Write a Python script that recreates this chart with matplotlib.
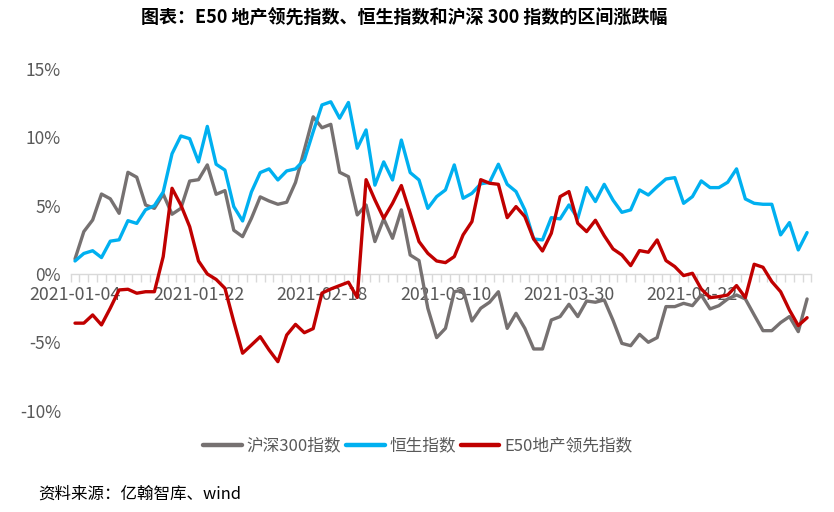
import matplotlib
matplotlib.use("Agg")
import matplotlib.pyplot as plt
from matplotlib.lines import Line2D
from matplotlib.ticker import FixedLocator, FuncFormatter

plt.rcParams['font.family'] = ['Noto Sans CJK SC', 'DejaVu Sans']
plt.rcParams['axes.unicode_minus'] = False

# ---- data (percent change, trading days from 2021-01-04) ----
tick_labels = ["2021-01-04", "2021-01-22", "2021-02-18", "2021-03-10", "2021-03-30", "2021-04-22"]
tick_index = [0, 14, 28, 42, 56, 70]

hs300 = [1.1, 3.1, 3.95, 5.85, 5.5, 4.44, 7.44, 7.08, 5.05, 4.8,
         5.85, 4.37, 4.8, 6.8, 6.9, 7.98, 5.83, 6.1, 3.2, 2.73,
         4.07, 5.64, 5.34, 5.1, 5.25, 6.7, 9.08, 11.5, 10.7, 10.95,
         7.44, 7.12, 4.32, 5.05, 2.37, 4.03, 2.61, 4.69, 1.39, 0.98,
         -2.51, -4.66, -3.98, -1.3, -1.17, -3.44, -2.51, -2.07, -1.3, -3.98,
         -2.88, -3.98, -5.49, -5.49, -3.37, -3.12, -2.22, -3.12, -1.98, -2.07,
         -1.9, -3.4, -5.08, -5.25, -4.42, -5.0, -4.66, -2.39, -2.39, -2.15,
         -2.32, -1.54, -2.56, -2.32, -1.83, -1.54, -1.83, -3.0, -4.15, -4.15,
         -3.56, -3.12, -4.22, -1.83]

hsi = [0.95, 1.5, 1.7, 1.2, 2.4, 2.5, 3.9, 3.7, 4.7, 5.0,
       6.0, 8.8, 10.1, 9.9, 8.2, 10.8, 8.03, 7.6, 4.93, 3.88,
       6.0, 7.42, 7.69, 6.88, 7.54, 7.69, 8.35, 10.4, 12.37, 12.6,
       11.4, 12.55, 9.2, 10.54, 6.5, 8.2, 6.88, 9.8, 7.42, 6.88,
       4.8, 5.66, 6.15, 7.98, 5.54, 5.9, 6.6, 6.7, 8.03, 6.56,
       6.03, 4.69, 2.56, 2.49, 4.12, 4.03, 5.05, 4.07, 6.32, 5.3,
       6.56, 5.4, 4.51, 4.69, 6.15, 5.78, 6.39, 6.95, 7.05, 5.17,
       5.66, 6.81, 6.32, 6.32, 6.71, 7.69, 5.49, 5.17, 5.1, 5.1,
       2.86, 3.76, 1.76, 3.03]

e50 = [-3.6, -3.6, -3.0, -3.73, -2.5, -1.17, -1.12, -1.41, -1.3, -1.3,
       1.27, 6.27, 5.05, 3.46, 0.95, 0.0, -0.4, -1.05, -3.49, -5.8,
       -5.2, -4.59, -5.56, -6.42, -4.47, -3.69, -4.3, -4.0, -1.4, -1.1,
       -0.85, -0.6, -1.72, 6.9, 5.42, 4.07, 5.17, 6.47, 4.44, 2.37,
       1.51, 0.95, 0.83, 1.27, 2.86, 3.83, 6.9, 6.64, 6.56, 4.12,
       4.93, 4.2, 2.56, 1.68, 2.98, 5.66, 6.03, 3.71, 3.1, 3.93,
       2.8, 1.83, 1.39, 0.61, 1.71, 1.59, 2.49, 0.98, 0.54, -0.12,
       0.05, -1.1, -1.73, -1.66, -1.54, -0.85, -1.73, 0.71, 0.49, -0.56,
       -1.3, -2.64, -3.78, -3.2]

series_names = ["沪深300指数", "恒生指数", "E50地产领先指数"]
series_colors = ["#767171", "#00B0F0", "#C00000"]
title = "图表：E50 地产领先指数、恒生指数和沪深 300 指数的区间涨跌幅"
source = "资料来源：亿翰智库、wind"

W, H = 834, 512
fig = plt.figure(figsize=(W / 100, H / 100), dpi=100)
ax = fig.add_axes([70.6 / W, 1 - 410.6 / H, (811.5 - 70.6) / W, (410.6 - 69) / H])

x = list(range(len(hs300)))
for vals, c in zip([hs300, hsi, e50], series_colors):
    ax.plot(x, vals, color=c, lw=2.4, solid_joinstyle='round', solid_capstyle='round', zorder=3)

ax.set_xlim(-0.5, len(x) - 0.5)
ax.set_ylim(-10, 15)

for s in ['top', 'right', 'left']:
    ax.spines[s].set_visible(False)
ax.spines['bottom'].set_position(('data', 0))
ax.spines['bottom'].set_color('#D9D9D9')
ax.spines['bottom'].set_linewidth(1.0)
ax.spines['bottom'].set_zorder(1)

ax.xaxis.set_major_locator(FixedLocator(tick_index))
ax.set_xticklabels(tick_labels)
ax.xaxis.set_minor_locator(FixedLocator([i - 0.5 for i in range(len(x) + 1)]))
ax.tick_params(axis='x', which='major', length=0, pad=8.5, labelsize=12.8, labelcolor='#595959')
ax.tick_params(axis='x', which='minor', length=5.5, width=1.0, color='#D9D9D9', direction='out')

ax.set_yticks([-10, -5, 0, 5, 10, 15])
ax.yaxis.set_major_formatter(FuncFormatter(lambda v, p: f"{int(v)}%"))
ax.tick_params(axis='y', length=0, pad=7, labelsize=12.5, labelcolor='#595959')

fig.text(404 / W, 1 - 18 / H, title, ha='center', va='center', fontsize=13,
         fontweight='bold', color='#000000')

handles = [Line2D([0], [0], color=c, lw=3.2, solid_capstyle='round') for c in series_colors]
fig.legend(handles, series_names, loc='center', bbox_to_anchor=(418 / W, 1 - 446 / H),
           ncol=3, frameon=False, fontsize=12, labelcolor='#595959',
           handlelength=2.3, handletextpad=0.3, columnspacing=0.3, borderaxespad=0, borderpad=0)

fig.text(38 / W, 1 - 494 / H, source, ha='left', va='center', fontsize=11.9, color='#000000')

fig.savefig("out.png", dpi=100)
